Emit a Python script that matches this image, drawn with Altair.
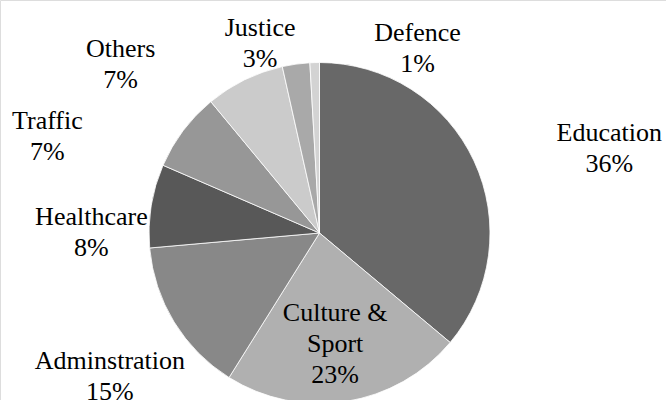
import altair as alt
import pandas as pd

# ---- data ----
categories = ["Education", "Culture & Sport", "Adminstration", "Healthcare",
              "Traffic", "Others", "Justice", "Defence"]
shares = [36.1, 22.8, 14.7, 7.9, 7.5, 7.5, 2.6, 0.9]
pct_labels = ["36%", "23%", "15%", "8%", "7%", "7%", "3%", "1%"]
name_lines = ["Education", "Culture &|Sport", "Adminstration", "Healthcare",
              "Traffic", "Others", "Justice", "Defence"]

# ---- styles / layout ----
colors = ["#686868", "#b0b0b0", "#888888", "#585858",
          "#979797", "#cbcbcb", "#a9a9a9", "#d3d3d3"]
CX, CY, R = 319.5, 233, 170.5
FONT = "Liberation Serif"
label_radius = [290, 113, 254, 228, 289, 261, 199, 209]
label_dx = [27, -2, 7, -3, -41, -84, -32, 104]
label_dy = [23, -32, -5, 20, 62, 50, -8, 9]

df = pd.DataFrame({
    "idx": list(range(len(categories))),
    "category": categories,
    "share": shares,
    "label": [n + "|" + p for n, p in zip(name_lines, pct_labels)],
})

base = alt.Chart(df).transform_calculate(lines="split(datum.label, '|')")

pie = base.mark_arc(radius=R, stroke="white", strokeWidth=0.8).encode(
    theta=alt.Theta("share:Q", stack=True),
    color=alt.Color("category:N", scale=alt.Scale(domain=categories, range=colors), legend=None),
    order=alt.Order("idx:Q"),
    x=alt.value(CX),
    y=alt.value(CY),
)

layers = [pie]
for i, cat in enumerate(categories):
    t = base.mark_text(
        font=FONT, fontSize=26, lineHeight=31, color="black",
        align="center", baseline="middle", dx=label_dx[i], dy=label_dy[i],
    ).encode(
        theta=alt.Theta("share:Q", stack=True),
        detail="category:N",
        order=alt.Order("idx:Q"),
        radius=alt.value(label_radius[i]),
        text=alt.condition(alt.datum.category == cat, alt.Text("lines:N"), alt.value("")),
        x=alt.value(CX),
        y=alt.value(CY),
    )
    layers.append(t)

chart = alt.layer(*layers).properties(
    width=666, height=400,
    autosize=alt.AutoSizeParams(type="none"),
    padding=0,
).configure_view(stroke=None).configure(background="white", font=FONT)

chart.save("out.html", embed_options={"renderer": "svg", "actions": False})
